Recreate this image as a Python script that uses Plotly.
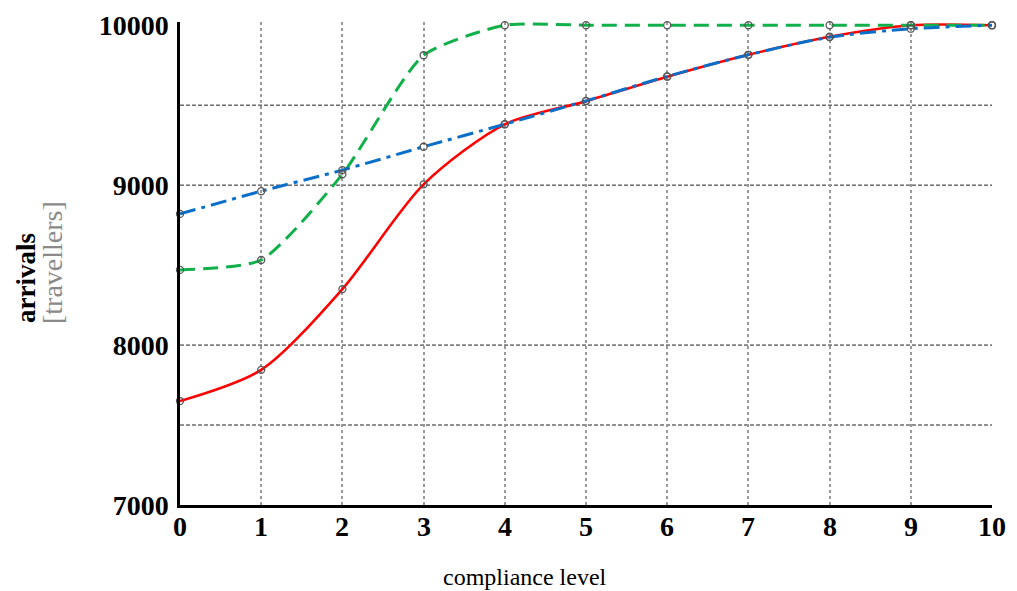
import plotly.graph_objects as go

compliance = [0, 1, 2, 3, 4, 5, 6, 7, 8, 9, 10]
red_series = [7650, 7845, 8350, 9005, 9380, 9525, 9678, 9815, 9928, 10000, 10000]
blue_series = [8820, 8962, 9094, 9240, 9381, 9527, 9680, 9815, 9925, 9978, 10000]
green_series = [8470, 8532, 9068, 9812, 10000, 10000, 10000, 10000, 10000, 10000, 10000]
y_ticks = [7000, 8000, 9000, 10000]
x_ticks = [0, 1, 2, 3, 4, 5, 6, 7, 8, 9, 10]
h_grid = [7500, 8000, 9000, 9500]

marker = dict(symbol="circle-open", size=7, color="#555555", line=dict(width=1.3, color="#555555"))

fig = go.Figure()
fig.add_trace(go.Scatter(x=compliance, y=red_series, mode="lines",
                         line=dict(color="#ff0000", width=2.6, shape="spline", smoothing=0.8)))
fig.add_trace(go.Scatter(x=compliance, y=green_series, mode="lines",
                         line=dict(color="#12b04a", width=3, shape="spline", smoothing=0.6, dash="15px,8px")))
fig.add_trace(go.Scatter(x=compliance, y=blue_series, mode="lines",
                         line=dict(color="#0a6fc8", width=3, shape="spline", smoothing=0.8, dash="16px,6px,4px,6px")))
for s in (red_series, green_series, blue_series):
    fig.add_trace(go.Scatter(x=compliance, y=s, mode="markers", marker=marker, cliponaxis=False))

shapes = []
for v in h_grid:
    shapes.append(dict(type="line", xref="x", yref="y", x0=0, x1=10, y0=v, y1=v,
                       line=dict(color="#222222", width=1, dash="4px,2px"), layer="below"))

tick_font = dict(size=28, family="Liberation Serif", color="black", weight="bold")
annotations = [
    dict(text="arrivals", xref="paper", yref="paper", x=0, y=0.47, xshift=-154,
         showarrow=False, textangle=-90, xanchor="center", yanchor="middle",
         font=dict(size=27, family="Liberation Serif", color="black", weight="bold")),
    dict(text="[travellers]", xref="paper", yref="paper", x=0, y=0.501, xshift=-128,
         showarrow=False, textangle=-90, xanchor="center", yanchor="middle",
         font=dict(size=28, family="Liberation Serif", color="#8a8a8a")),
    dict(text="compliance level", xref="paper", yref="paper", x=0.425, y=0, yshift=-72,
         showarrow=False, xanchor="center", yanchor="middle",
         font=dict(size=24, family="Liberation Serif", color="black")),
]
for t in x_ticks:
    annotations.append(dict(text=str(t), xref="x", yref="paper", x=t, y=0, yshift=-4,
                            showarrow=False, xanchor="center", yanchor="top", font=tick_font))

fig.update_layout(
    width=1009, height=583,
    margin=dict(l=172, r=25, t=14, b=86, autoexpand=False),
    paper_bgcolor="white", plot_bgcolor="white",
    showlegend=False,
    shapes=shapes,
    font=dict(family="Liberation Serif", color="black"),
    xaxis=dict(range=[0, 10], tickvals=x_ticks, showticklabels=False,
               showgrid=True, gridcolor="#9a9a9a", gridwidth=1.5, griddash="dot",
               showline=True, linecolor="black", linewidth=2.5, zeroline=False,
               ticks="", ticklen=0),
    yaxis=dict(range=[7000, 10020], tickvals=y_ticks, ticktext=[str(t) for t in y_ticks],
               showgrid=False, showline=True, linecolor="black", linewidth=2.5, zeroline=False,
               ticks="", ticklen=0, tickfont=tick_font, ticklabelstandoff=3),
    annotations=annotations,
)
fig.write_html("out.html")
